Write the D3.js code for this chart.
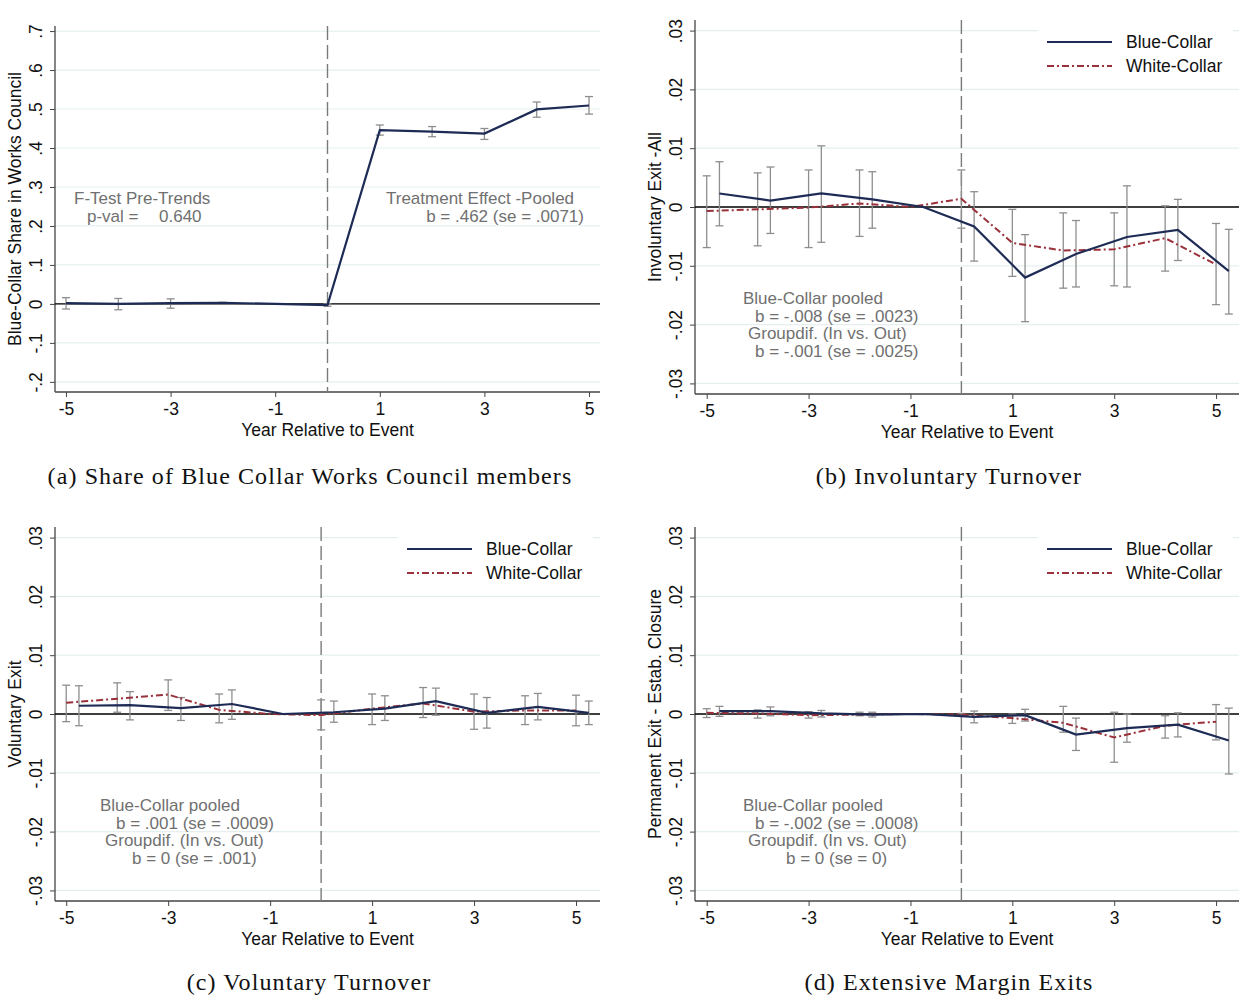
<!DOCTYPE html>
<html>
<head>
<meta charset="utf-8">
<script src="https://cdn.jsdelivr.net/npm/d3@7"></script>
<style>
    body { margin: 0; background: #fff; }
    text { font-family: "Liberation Sans", Arial, sans-serif; }
    .caption { font-family: "Liberation Serif", "Times New Roman", serif; }
</style>
</head>
<body>
<script>
// event time and tick labels
const years = [-5, -4, -3, -2, -1, 0, 1, 2, 3, 4, 5];
const xTicks = [-5, -3, -1, 1, 3, 5];
const shareTicks = [-0.2, -0.1, 0, 0.1, 0.2, 0.3, 0.4, 0.5, 0.6, 0.7];
const exitTicks = [-0.03, -0.02, -0.01, 0, 0.01, 0.02, 0.03];

// (a) blue-collar share in works council
const shareCoef = [0.002, 0.000, 0.002, 0.003, 0.000, -0.003, 0.446, 0.442, 0.437, 0.499, 0.509];
const shareLo = [-0.013, -0.015, -0.011, 0.001, null, -0.006, 0.433, 0.429, 0.422, 0.479, 0.487];
const shareHi = [0.016, 0.014, 0.013, 0.004, null, 0.000, 0.459, 0.455, 0.450, 0.518, 0.532];

// (b) involuntary exit
const invWhite = [-0.0007, -0.0004, -0.0001, 0.0006, 0, 0.0014, -0.0061, -0.0074, -0.0072, -0.0053, -0.0098];
const invWhiteLo = [-0.0069, -0.0066, -0.0069, -0.0050, null, -0.0036, -0.0118, -0.0138, -0.0134, -0.0109, -0.0166];
const invWhiteHi = [0.0053, 0.0058, 0.0063, 0.0063, null, 0.0063, -0.0004, -0.0010, -0.0010, 0.0002, -0.0028];
const invBlue = [0.0023, 0.0011, 0.0023, 0.0013, 0, -0.0033, -0.0120, -0.0080, -0.0051, -0.0039, -0.0109];
const invBlueLo = [-0.0032, -0.0045, -0.0060, -0.0036, null, -0.0092, -0.0195, -0.0136, -0.0136, -0.0091, -0.0182];
const invBlueHi = [0.0077, 0.0068, 0.0104, 0.0060, null, 0.0026, -0.0047, -0.0023, 0.0036, 0.0013, -0.0038];

// (c) voluntary exit
const volWhite = [0.0019, 0.0026, 0.0033, 0.0007, 0, -0.0002, 0.0009, 0.0018, 0.0004, 0.0006, 0.0006];
const volWhiteLo = [-0.0013, 0.0003, 0.0006, -0.0015, null, -0.0027, -0.0018, -0.0006, -0.0026, -0.0018, -0.0020];
const volWhiteHi = [0.0049, 0.0053, 0.0058, 0.0034, null, 0.0024, 0.0034, 0.0045, 0.0034, 0.0031, 0.0032];
const volBlue = [0.0014, 0.0015, 0.0010, 0.0017, 0, 0.0003, 0.0009, 0.0022, 0.0002, 0.0012, 0.0002];
const volBlueLo = [-0.0020, -0.0010, -0.0011, -0.0009, null, -0.0014, -0.0011, -0.0002, -0.0024, -0.0010, -0.0018];
const volBlueHi = [0.0048, 0.0038, 0.0028, 0.0041, null, 0.0022, 0.0031, 0.0044, 0.0028, 0.0035, 0.0022];

// (d) permanent exit - establishment closure
const permWhite = [0.0002, 0.0001, -0.0002, -0.0001, 0, -0.0001, -0.0007, -0.0015, -0.0040, -0.0020, -0.0013];
const permWhiteLo = [-0.0006, -0.0007, -0.0007, -0.0003, null, -0.0003, -0.0016, -0.0031, -0.0082, -0.0041, -0.0044];
const permWhiteHi = [0.0009, 0.0007, 0.0004, 0.0003, null, 0.0001, 0.0000, 0.0013, 0.0003, -0.0003, 0.0016];
const permBlue = [0.0005, 0.0005, 0.0001, -0.0001, 0, -0.0005, -0.0002, -0.0035, -0.0024, -0.0018, -0.0045];
const permBlueLo = [-0.0004, -0.0003, -0.0005, -0.0005, null, -0.0015, -0.0012, -0.0062, -0.0048, -0.0039, -0.0102];
const permBlueHi = [0.0013, 0.0012, 0.0006, 0.0003, null, 0.0005, 0.0008, -0.0007, 0.0000, 0.0002, 0.0010];

const COLORS = {
    blue: '#1d2b55',
    white: '#9a3039',
    ci: '#8e8e8e',
    grid: '#e6efef',
    axis: '#444',
    note: '#707070'
};
const FONT = '17.5px';
const BLUE_SHIFT = 0.25; // blue-collar estimates are drawn a quarter year to the right

const svg = d3.select('body').append('svg')
    .attr('width', 1254)
    .attr('height', 1000);

// Stata style tick labels: .7, -.1, 0 (plain hyphen for minus)
function stataFmt(d) {
    if (d === 0) return '0';
    return String(+d.toFixed(4)).replace(/^(-?)0\./, '$1.');
}

function drawPanel(p) {
    const x = d3.scaleLinear().domain(p.xDomain).range([p.left, p.right]);
    const y = d3.scaleLinear().domain(p.yDomain).range([p.bottom, p.top]);
    const g = svg.append('g');

    // grid
    g.selectAll('.grid')
        .data(p.yTicks)
        .enter()
        .append('line')
        .attr('x1', p.left).attr('x2', p.right)
        .attr('y1', d => y(d)).attr('y2', d => y(d))
        .attr('stroke', COLORS.grid)
        .attr('stroke-width', 1.2);

    // axes
    const yAxis = g.append('g')
        .attr('transform', `translate(${p.left},0)`)
        .call(d3.axisLeft(y).tickValues(p.yTicks).tickFormat(stataFmt).tickSize(5).tickPadding(0));
    yAxis.select('.domain').remove();
    yAxis.selectAll('.tick line').attr('stroke', COLORS.axis);
    yAxis.selectAll('.tick text')
        .attr('x', 0).attr('y', 0).attr('dy', 0)
        .attr('transform', 'translate(-13,0) rotate(-90)')
        .attr('text-anchor', 'middle')
        .style('font-size', FONT)
        .attr('fill', '#111');

    const xAxis = g.append('g')
        .attr('transform', `translate(0,${p.bottom})`)
        .call(d3.axisBottom(x).tickValues(xTicks).tickFormat(d => String(d)).tickSize(5).tickPadding(6));
    xAxis.select('.domain').remove();
    xAxis.selectAll('.tick line').attr('stroke', COLORS.axis);
    xAxis.selectAll('.tick text')
        .style('font-size', FONT)
        .attr('fill', '#111');

    g.append('line')
        .attr('x1', p.left).attr('x2', p.left)
        .attr('y1', p.top).attr('y2', p.bottom)
        .attr('stroke', COLORS.axis).attr('stroke-width', 1.3);
    g.append('line')
        .attr('x1', p.left).attr('x2', p.right)
        .attr('y1', p.bottom).attr('y2', p.bottom)
        .attr('stroke', COLORS.axis).attr('stroke-width', 1.3);

    // axis titles
    g.append('text')
        .attr('transform', `translate(${p.left - 34},${(p.top + p.bottom) / 2}) rotate(-90)`)
        .attr('text-anchor', 'middle')
        .style('font-size', FONT)
        .attr('fill', '#111')
        .text(p.yTitle);
    g.append('text')
        .attr('x', (p.left + p.right) / 2)
        .attr('y', p.bottom + 44)
        .attr('text-anchor', 'middle')
        .style('font-size', FONT)
        .attr('fill', '#111')
        .text('Year Relative to Event');

    // zero line and event line
    g.append('line')
        .attr('x1', p.left).attr('x2', p.right)
        .attr('y1', y(0)).attr('y2', y(0))
        .attr('stroke', '#000').attr('stroke-width', 1.3);
    g.append('line')
        .attr('x1', x(0)).attr('x2', x(0))
        .attr('y1', p.top).attr('y2', p.bottom)
        .attr('stroke', '#7a7a7a').attr('stroke-width', 1.4)
        .attr('stroke-dasharray', '14,5');

    // error bars
    p.series.forEach(s => {
        const bars = years.map((t, i) => ({ t: t + s.shift, lo: s.lo[i], hi: s.hi[i] }))
            .filter(d => d.lo !== null);
        const cg = g.append('g').attr('stroke', COLORS.ci).attr('stroke-width', 1.3);
        cg.selectAll('.v').data(bars).enter().append('line')
            .attr('x1', d => x(d.t)).attr('x2', d => x(d.t))
            .attr('y1', d => y(d.lo)).attr('y2', d => y(d.hi));
        ['lo', 'hi'].forEach(k => {
            cg.selectAll('.c' + k).data(bars).enter().append('line')
                .attr('x1', d => x(d.t) - 4).attr('x2', d => x(d.t) + 4)
                .attr('y1', d => y(d[k])).attr('y2', d => y(d[k]));
        });
    });

    // coefficient lines
    const line = d3.line().x(d => x(d.t)).y(d => y(d.v));
    p.series.slice().reverse().forEach(s => {
        g.append('path')
            .datum(years.map((t, i) => ({ t: t + s.shift, v: s.coef[i] })))
            .attr('fill', 'none')
            .attr('stroke', s.color)
            .attr('stroke-width', s.width)
            .attr('stroke-dasharray', s.dash)
            .attr('d', line);
    });

    // notes
    p.notes.forEach(n => {
        g.append('text')
            .attr('x', n.x).attr('y', n.y)
            .attr('text-anchor', n.anchor || 'start')
            .style('font-size', '17px')
            .attr('fill', COLORS.note)
            .text(n.text);
    });

    // legend
    if (p.legend) {
        const L = p.legend;
        g.append('rect')
            .attr('x', L.x).attr('y', L.y)
            .attr('width', 195).attr('height', 58)
            .attr('fill', '#fff');
        const items = [
            { label: 'Blue-Collar', color: COLORS.blue, dash: null, width: 2.2 },
            { label: 'White-Collar', color: COLORS.white, dash: '7,3,2,3', width: 2 }
        ];
        items.forEach((it, i) => {
            const ly = L.y + 18 + i * 24;
            g.append('line')
                .attr('x1', L.x + 9).attr('x2', L.x + 74)
                .attr('y1', ly).attr('y2', ly)
                .attr('stroke', it.color)
                .attr('stroke-width', it.width)
                .attr('stroke-dasharray', it.dash);
            g.append('text')
                .attr('x', L.x + 88).attr('y', ly + 6)
                .style('font-size', FONT)
                .attr('fill', '#111')
                .text(it.label);
        });
    }

    // caption
    svg.append('text')
        .attr('class', 'caption')
        .attr('x', p.caption.x).attr('y', p.caption.y)
        .attr('text-anchor', 'middle')
        .style('font-size', '24px')
        .style('letter-spacing', '1.1px')
        .attr('fill', '#111')
        .text(p.caption.text);
}

function twoSeries(white, whiteLo, whiteHi, blue, blueLo, blueHi) {
    return [
        { coef: blue, lo: blueLo, hi: blueHi, shift: BLUE_SHIFT, color: COLORS.blue, width: 2.2, dash: null },
        { coef: white, lo: whiteLo, hi: whiteHi, shift: 0, color: COLORS.white, width: 2, dash: '7,3,2,3' }
    ];
}

drawPanel({
    left: 55, right: 600, top: 26, bottom: 392,
    xDomain: [-5.21, 5.21], yDomain: [-0.226, 0.713], yTicks: shareTicks,
    yTitle: 'Blue-Collar Share in Works Council',
    series: [{ coef: shareCoef, lo: shareLo, hi: shareHi, shift: 0, color: COLORS.blue, width: 2.2, dash: null }],
    notes: [
        { x: 74, y: 204, text: 'F-Test Pre-Trends' },
        { x: 87, y: 222, text: 'p-val =' },
        { x: 159, y: 222, text: '0.640' },
        { x: 386, y: 204, text: 'Treatment Effect -Pooled' },
        { x: 584, y: 222, text: 'b = .462 (se = .0071)', anchor: 'end' }
    ],
    legend: null,
    caption: { x: 310, y: 484, text: '(a) Share of Blue Collar Works Council members' }
});

drawPanel({
    left: 695, right: 1239, top: 20, bottom: 394,
    xDomain: [-5.23, 5.45], yDomain: [-0.0318, 0.0318], yTicks: exitTicks,
    yTitle: 'Involuntary Exit -All',
    series: twoSeries(invWhite, invWhiteLo, invWhiteHi, invBlue, invBlueLo, invBlueHi),
    notes: [
        { x: 743, y: 304, text: 'Blue-Collar pooled' },
        { x: 755, y: 322, text: 'b = -.008 (se = .0023)' },
        { x: 748, y: 339, text: 'Groupdif. (In vs. Out)' },
        { x: 755, y: 357, text: 'b = -.001 (se = .0025)' }
    ],
    legend: { x: 1038, y: 24 },
    caption: { x: 949, y: 484, text: '(b) Involuntary Turnover' }
});

drawPanel({
    left: 55, right: 600, top: 527, bottom: 901,
    xDomain: [-5.22, 5.47], yDomain: [-0.0318, 0.0318], yTicks: exitTicks,
    yTitle: 'Voluntary Exit',
    series: twoSeries(volWhite, volWhiteLo, volWhiteHi, volBlue, volBlueLo, volBlueHi),
    notes: [
        { x: 100, y: 811, text: 'Blue-Collar pooled' },
        { x: 116, y: 829, text: 'b = .001 (se = .0009)' },
        { x: 105, y: 846, text: 'Groupdif. (In vs. Out)' },
        { x: 132, y: 864, text: 'b = 0 (se = .001)' }
    ],
    legend: { x: 398, y: 531 },
    caption: { x: 309, y: 990, text: '(c) Voluntary Turnover' }
});

drawPanel({
    left: 695, right: 1239, top: 527, bottom: 901,
    xDomain: [-5.23, 5.45], yDomain: [-0.0318, 0.0318], yTicks: exitTicks,
    yTitle: 'Permanent Exit - Estab. Closure',
    series: twoSeries(permWhite, permWhiteLo, permWhiteHi, permBlue, permBlueLo, permBlueHi),
    notes: [
        { x: 743, y: 811, text: 'Blue-Collar pooled' },
        { x: 755, y: 829, text: 'b = -.002 (se = .0008)' },
        { x: 748, y: 846, text: 'Groupdif. (In vs. Out)' },
        { x: 786, y: 864, text: 'b = 0 (se = 0)' }
    ],
    legend: { x: 1038, y: 531 },
    caption: { x: 949, y: 990, text: '(d) Extensive Margin Exits' }
});
</script>
</body>
</html>
